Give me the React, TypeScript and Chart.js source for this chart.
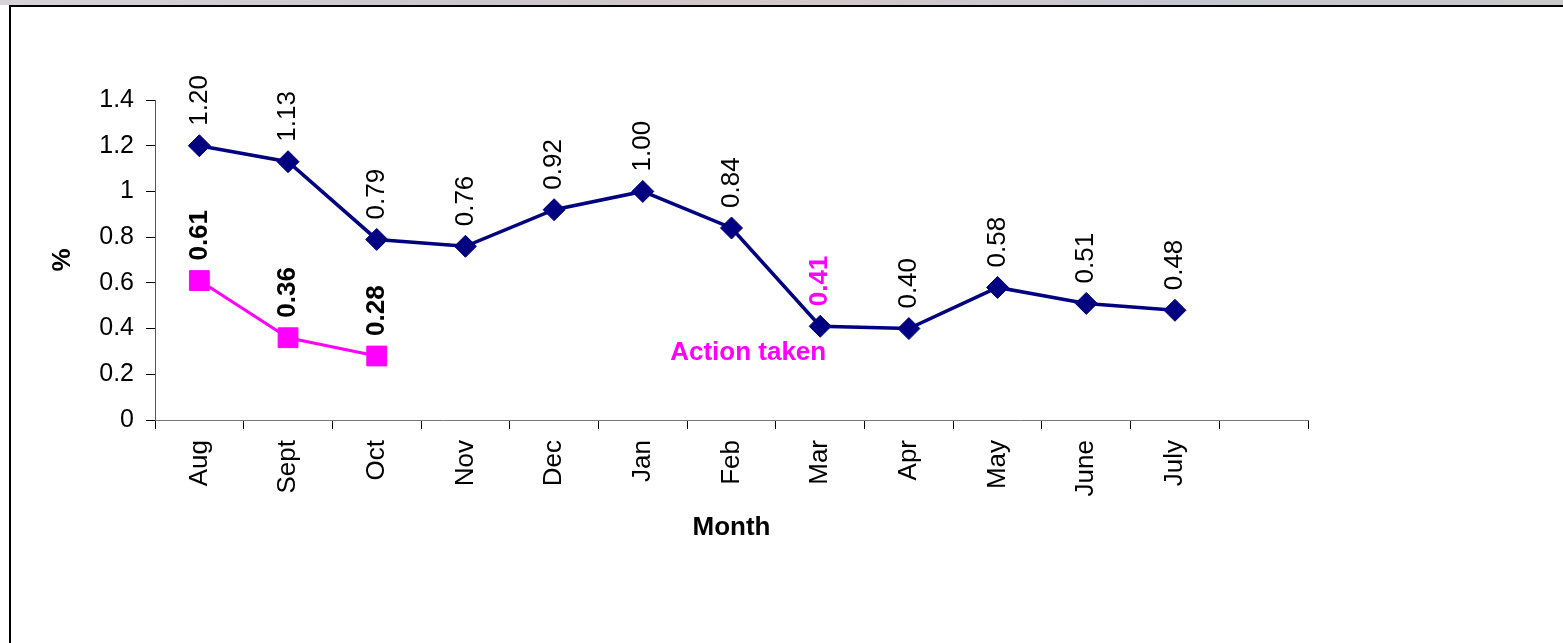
import React, { useEffect, useRef } from 'react';
import { Chart, registerables } from 'chart.js';

Chart.register(...registerables);

const categories = ['Aug', 'Sept', 'Oct', 'Nov', 'Dec', 'Jan', 'Feb', 'Mar', 'Apr', 'May', 'June', 'July', ''];
const mainValues = [1.2, 1.13, 0.79, 0.76, 0.92, 1.0, 0.84, 0.41, 0.4, 0.58, 0.51, 0.48, null];
const earlyValues = [0.61, 0.36, 0.28, null, null, null, null, null, null, null, null, null, null];
const yTickValues = [0, 0.2, 0.4, 0.6, 0.8, 1, 1.2, 1.4];
const yTickLabels = ['0', '0.2', '0.4', '0.6', '0.8', '1', '1.2', '1.4'];
const xTitle = 'Month';
const yTitle = '%';
const annotationText = 'Action taken';
const actionIndex = 7;

const NAVY = '#000080';
const PINK = '#FF00FF';
const FONT = "'Liberation Sans', Arial, sans-serif";

const labelPlugin = {
  id: 'rotatedLabels',
  afterDatasetsDraw(chart: any) {
    const ctx = chart.ctx;
    chart.data.datasets.forEach((ds: any, di: number) => {
      const meta = chart.getDatasetMeta(di);
      meta.data.forEach((pt: any, i: number) => {
        const v = ds.data[i];
        if (v === null || v === undefined) return;
        let color = '#000';
        let weight = 'normal';
        if (di === 1) {
          color = '#000';
          weight = 'bold';
        } else if (i === actionIndex) {
          color = PINK;
          weight = 'bold';
        }
        ctx.save();
        ctx.translate(pt.x, pt.y - 20);
        ctx.rotate(-Math.PI / 2);
        ctx.font = `${weight} 26px ${FONT}`;
        ctx.fillStyle = color;
        ctx.textAlign = 'left';
        ctx.textBaseline = 'middle';
        ctx.fillText(Number(v).toFixed(2), 0, 0);
        ctx.restore();
      });
    });
    const m = chart.getDatasetMeta(0).data[actionIndex];
    if (m) {
      ctx.save();
      ctx.font = `bold 26px ${FONT}`;
      ctx.fillStyle = PINK;
      ctx.textAlign = 'right';
      ctx.textBaseline = 'alphabetic';
      ctx.fillText(annotationText, m.x + 6, m.y + 34);
      ctx.restore();
    }
  },
};

export default function App() {
  const ref = useRef<HTMLCanvasElement | null>(null);

  useEffect(() => {
    if (!ref.current) return;
    const chart = new Chart(ref.current, {
      type: 'line',
      data: {
        labels: categories,
        datasets: [
          {
            data: mainValues,
            borderColor: NAVY,
            backgroundColor: NAVY,
            borderWidth: 3.5,
            pointStyle: 'rectRot',
            pointRadius: 11,
            pointBorderWidth: 1,
            pointBackgroundColor: NAVY,
            pointBorderColor: NAVY,
            tension: 0,
            clip: false,
          },
          {
            data: earlyValues,
            borderColor: PINK,
            backgroundColor: PINK,
            borderWidth: 3,
            pointStyle: 'rect',
            pointRadius: 14,
            pointBorderWidth: 1,
            pointBackgroundColor: PINK,
            pointBorderColor: PINK,
            tension: 0,
            clip: false,
          },
        ],
      } as any,
      options: {
        animation: false,
        responsive: false,
        devicePixelRatio: 1,
        layout: { padding: { left: 0, top: 100, right: 255, bottom: 0 } },
        plugins: {
          legend: { display: false },
          tooltip: { enabled: false },
        },
        scales: {
          x: {
            type: 'category',
            offset: true,
            grid: {
              offset: true,
              drawOnChartArea: false,
              drawTicks: true,
              tickLength: 9,
              color: '#000',
            },
            border: { display: true, color: '#777', width: 1 },
            ticks: {
              autoSkip: false,
              minRotation: 90,
              maxRotation: 90,
              padding: 11,
              color: '#000',
              font: { family: FONT, size: 26 },
            },
            title: {
              display: true,
              text: xTitle,
              color: '#000',
              font: { family: FONT, size: 26, weight: 'bold' },
              padding: { top: 0, bottom: 100 },
            },
            afterFit: (s: any) => {
              s.height = 223;
            },
          },
          y: {
            type: 'linear',
            min: 0,
            max: 1.4,
            afterBuildTicks: (s: any) => {
              s.ticks = yTickValues.map((v) => ({ value: v }));
            },
            grid: {
              drawOnChartArea: false,
              drawTicks: true,
              tickLength: 9,
              color: '#000',
            },
            border: { display: true, color: '#555', width: 1 },
            ticks: {
              padding: 12,
              color: '#000',
              font: { family: FONT, size: 25 },
              callback: (_v: any, i: number) => yTickLabels[i],
            },
            title: {
              display: true,
              text: yTitle,
              color: '#000',
              font: { family: FONT, size: 26, weight: 'bold' },
              padding: { top: 47, bottom: 0 },
            },
            afterFit: (s: any) => {
              s.width = 155;
            },
          },
        },
      } as any,
      plugins: [labelPlugin],
    });
    return () => chart.destroy();
  }, []);

  return (
    <div
      style={{
        position: 'fixed',
        left: 0,
        top: 0,
        width: 1563,
        height: 643,
        background: '#fff',
        overflow: 'hidden',
      }}
    >
      <div
        style={{
          position: 'absolute',
          left: 0,
          top: 0,
          width: 1563,
          height: 5,
          background: 'linear-gradient(90deg, #d6d2d6 0%, #cbc6cb 30%, #d3c9c9 50%, #c6c6cf 75%, #c9c9c9 100%)',
        }}
      />
      <div
        style={{
          position: 'absolute',
          left: 9,
          top: 5,
          width: 1600,
          height: 700,
          borderLeft: '2px solid #000',
          borderTop: '2px solid #000',
          boxSizing: 'border-box',
        }}
      />
      <canvas
        ref={ref}
        width={1563}
        height={643}
        style={{ position: 'absolute', left: 0, top: 0, width: 1563, height: 643 }}
      />
    </div>
  );
}
